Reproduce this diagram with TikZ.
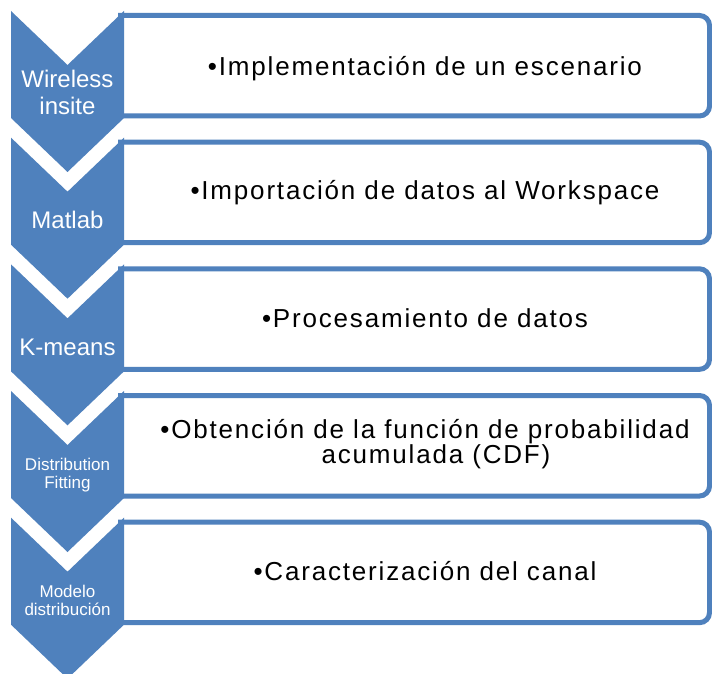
\documentclass[tikz,border=0pt]{standalone}
\usepackage{fontspec}
\setmainfont{Liberation Sans}
\newfontfamily\boxfont[LetterSpace=7]{Liberation Sans}
\definecolor{smblue}{HTML}{4F81BD}
\begin{document}
\begin{tikzpicture}[x=1pt,y=-1pt,
  chev/.style={fill=smblue},
  boxline/.style={draw=smblue,line width=5pt,rounded corners=10pt},
  chevtext/.style={text=white,font=\fontsize{24}{28}\selectfont,align=center,inner sep=0pt},
  chevsmall/.style={text=white,font=\fontsize{17}{17.5}\selectfont,align=center,inner sep=0pt},
  boxtext/.style={text=black,font=\boxfont\fontsize{26}{25}\selectfont,align=center,inner sep=0pt}]
\clip (0,0) rectangle (712,674);
\fill[white] (0,0) rectangle (712,674);
\foreach \k in {0,...,4}{
  \pgfmathsetmacro\tp{15.5+126.67*\k}
  \pgfmathsetmacro\bt{\tp+100.5}
  \draw[boxline] (118,\tp) -- (709.5,\tp) -- (709.5,\bt) -- (118,\bt);
  \pgfmathsetmacro\cy{11+126.67*\k}
  \fill[chev] (11,\cy) -- (67.5,\cy+54) -- (124,\cy) -- (124,\cy+107)
     -- (67.5,\cy+161) -- (11,\cy+107) -- cycle;
}
\node[chevtext,anchor=base] (c1) at (67.5,115) {Wireless\\insite};
\node[chevtext,anchor=base] (c2) at (67.5,228) {Matlab};
\node[chevtext,anchor=base] (c3) at (67.5,355) {K-means};
\node[chevsmall,anchor=base] (c4) at (67.5,488.3) {Distribution\\Fitting};
\node[chevsmall,anchor=base] (c5) at (67.5,615) {Modelo\\distribución};
\node[boxtext,anchor=base] (t1) at (425,75.5) {•Implementación de un escenario};
\node[boxtext,anchor=base] (t2) at (425,199.5) {•Importación de datos al Workspace};
\node[boxtext,anchor=base] (t3) at (425,327.5) {•Procesamiento de datos};
\node[boxtext,anchor=base] (t4) at (425,463) {•Obtención de la función de probabilidad\\\hspace*{22pt}acumulada (CDF)};
\node[boxtext,anchor=base] (t5) at (425,580.5) {•Caracterización del canal};
\end{tikzpicture}
\end{document}
